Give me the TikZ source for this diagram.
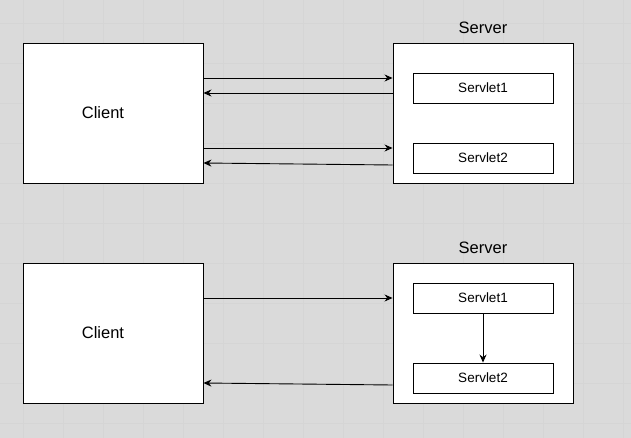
\documentclass[tikz,border=0pt]{standalone}
\usepackage{fontspec}
\setmainfont{Liberation Sans}
\usetikzlibrary{arrows.meta,positioning}
\definecolor{canvas}{RGB}{218,218,218}
\definecolor{gridc}{RGB}{213,213,213}

\begin{document}
\begin{tikzpicture}[x=1pt,y=-1pt,line width=0.9pt,
  box/.style={draw,fill=white,minimum width=180pt,minimum height=140pt,inner sep=0pt},
  sv/.style={draw,fill=white,minimum width=140pt,minimum height=30pt,inner sep=0pt,font=\fontsize{13.5}{16}\selectfont},
  big/.style={font=\fontsize{16.5}{20}\selectfont},
  ar/.style={-{Stealth[length=8pt,width=7pt]}}]
  \useasboundingbox (0,0) rectangle (631,438);
  \fill[canvas] (0,0) rectangle (631,438);
  \foreach \gx in {23,63,...,623} \draw[gridc,line width=0.5pt] (\gx,0) -- (\gx,438);
  \foreach \gy in {23,63,...,423} \draw[gridc,line width=0.5pt] (0,\gy) -- (631,\gy);
  % top: one request per servlet
  \node[box] (client1) at (113,113) {};
  \node[big] (ctext1) at (103,113) {Client};
  \node[box] (server1) at (483,113) {};
  \node[big] (title1) at (483,28) {Server};
  \node[sv] (s1a) at (483,88) {Servlet1};
  \node[sv] (s1b) at (483,158) {Servlet2};
  \draw[ar] ([yshift=35pt]client1.east) -- ([yshift=35pt]server1.west);
  \draw[ar] ([yshift=20pt]server1.west) -- ([yshift=20pt]client1.east);
  \draw[ar] ([yshift=-35pt]client1.east) -- ([yshift=-35pt]server1.west);
  \draw[ar] ([yshift=-52pt]server1.west) -- ([yshift=-50pt]client1.east);
  % bottom: servlet1 forwards to servlet2
  \node[box] (client2) at (113,333) {};
  \node[big] (ctext2) at (103,333) {Client};
  \node[box] (server2) at (483,333) {};
  \node[big] (title2) at (483,248) {Server};
  \node[sv] (s2a) at (483,298) {Servlet1};
  \node[sv] (s2b) at (483,378) {Servlet2};
  \draw[ar] ([yshift=35pt]client2.east) -- ([yshift=35pt]server2.west);
  \draw[ar] (s2a) -- (s2b);
  \draw[ar] ([yshift=-52pt]server2.west) -- ([yshift=-50pt]client2.east);
\end{tikzpicture}
\end{document}
